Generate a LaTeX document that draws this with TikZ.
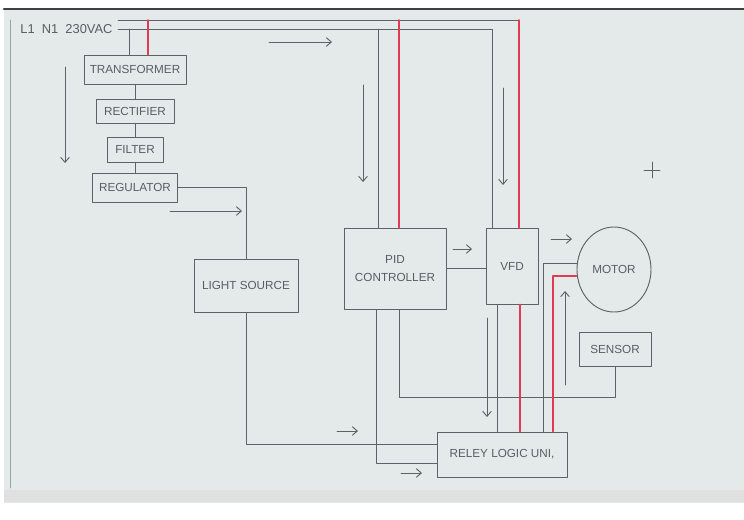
\documentclass[tikz,border=0pt]{standalone}
\usepackage{fontspec}
\setmainfont{Liberation Sans}
\usetikzlibrary{arrows.meta,calc,shapes.geometric}
\definecolor{wiregrey}{HTML}{5E6264}
\definecolor{wirered}{HTML}{E23A55}
\definecolor{labelgrey}{HTML}{5A5E60}
\definecolor{screen}{HTML}{E4E9EA}
\begin{document}
\begin{tikzpicture}[x=0.3mm, y=-0.3mm, line width=0.28mm, line cap=round, line join=round,
  >={Straight Barb[length=1.5mm,width=2.6mm]},
  wire/.style={draw=wiregrey},
  live/.style={draw=wirered, line width=0.45mm},
  flow/.style={draw=wiregrey, line width=0.28mm, ->},
  box/.style={draw=wiregrey, text=labelgrey, inner sep=0, align=center,
    font=\fontsize{10}{15}\selectfont}]
  % screen
  \useasboundingbox (0,0) rectangle (744,520);
  \fill[white] (0,0) rectangle (744,520);
  \fill[screen] (4,9) rectangle (744,503);
  \draw[black!75, line width=0.8mm] (4,9) -- (744,9);
  \draw[wiregrey!60, line width=0.25mm] (10,20) -- (10,488);
  \fill[black!12] (4,490) rectangle (744,502);

  % supply
  \node[anchor=west, text=labelgrey, font=\fontsize{11}{13}\selectfont] (mains) at (16,29) {L1\ \ N1\ \ 230VAC};
  \node[box, minimum width=30.6mm, minimum height=8.7mm] (xfmr) at (135,69.5) {TRANSFORMER};
  \node[box, minimum width=23.4mm, minimum height=7.2mm] (rect) at (135,111) {RECTIFIER};
  \node[box, minimum width=16.8mm, minimum height=7.5mm] (filt) at (135,149.5) {FILTER};
  \node[box, minimum width=25.5mm, minimum height=8.7mm] (reg) at (135,187.5) {REGULATOR};

  % blocks
  \node[box, minimum width=31.2mm, minimum height=15.9mm] (ls) at (246,285.5) {LIGHT SOURCE};
  \node[box, minimum width=30.6mm, minimum height=24.3mm] (pid) at (395,268.5) {PID\\CONTROLLER};
  \node[box, minimum width=15.6mm, minimum height=22.8mm] (vfd) at (512,266) {VFD};
  \node[box, ellipse, minimum width=22.2mm, minimum height=25.5mm] (motor) at (614,269.5) {MOTOR};
  \node[box, minimum width=21.6mm, minimum height=10.2mm] (sensor) at (615,349) {SENSOR};
  \node[box, minimum width=39mm, minimum height=13.5mm] (relay) at (502,454.5) {RELEY LOGIC UNI,};

  % mains bus
  \coordinate (l1) at (118,20);
  \coordinate (n1) at (118,29);
  \coordinate (lx) at (148,20);
  \coordinate (lp) at (399,20);
  \coordinate (lv) at (519,20);
  \coordinate (nx) at (129,29);
  \coordinate (np) at (378,29);
  \coordinate (nv) at (492,29);
  \draw[wire] (l1) -- (lv);
  \draw[wire] (n1) -- (nv) -- (nv |- vfd.north);
  \draw[wire] (nx) -- (nx |- xfmr.north);
  \draw[wire] (np) -- (np |- pid.north);
  \draw[live] (lx) -- (lx |- xfmr.north);
  \draw[live] (lp) -- (lp |- pid.north);
  \draw[live] (lv) -- (lv |- vfd.north);

  \draw[wire] (xfmr) -- (rect) -- (filt) -- (reg);
  \draw[wire] (reg.east) -| (ls.north);
  \draw[wire] (pid.east) -- (pid.east -| vfd.west);

  % to relay unit
  \coordinate (pb1) at ($(pid.south west)!0.32!(pid.south east)$);
  \coordinate (pb2) at ($(pid.south west)!0.54!(pid.south east)$);
  \coordinate (vb1) at ($(vfd.south west)!0.23!(vfd.south east)$);
  \coordinate (vb2) at ($(vfd.south west)!0.65!(vfd.south east)$);
  \coordinate (rw1) at ($(relay.north west)!0.29!(relay.south west)$);
  \coordinate (rw2) at ($(relay.north west)!0.69!(relay.south west)$);
  \coordinate (rt1) at ($(relay.north west)!0.82!(relay.north east)$);
  \coordinate (rt2) at ($(relay.north west)!0.89!(relay.north east)$);
  \draw[wire] (ls.south) |- (rw1);
  \draw[wire] (pb1) |- (rw2);
  \draw[wire] (sensor.south) -- ++(0,31) -| (pb2);
  \draw[wire] (vb1) -- (vb1 |- relay.north);
  \draw[live] (vb2) -- (vb2 |- relay.north);
  \draw[wire] ($(motor.west)+(0,-6.5)$) -| (rt1);
  \draw[live] ($(motor.west)+(0,6.5)$) -| (rt2);

  % flow arrows
  \draw[flow] (65,67) -- (65,163);
  \draw[flow] (170,211) -- (242,211);
  \draw[flow] (269,42) -- (332,42);
  \draw[flow] (363,85) -- (363,182);
  \draw[flow] (503,88) -- (503,185);
  \draw[flow] (453,249) -- (472,249);
  \draw[flow] (551,239) -- (572,239);
  \draw[flow] (565,385) -- (565,291);
  \draw[flow] (487,318) -- (487,417);
  \draw[flow] (337,431) -- (358,431);
  \draw[flow] (401,473) -- (422,473);

  % cursor
  \draw[wiregrey, line width=0.25mm] (644,170) -- (660,170) (652,162) -- (652,178);
\end{tikzpicture}
\end{document}
